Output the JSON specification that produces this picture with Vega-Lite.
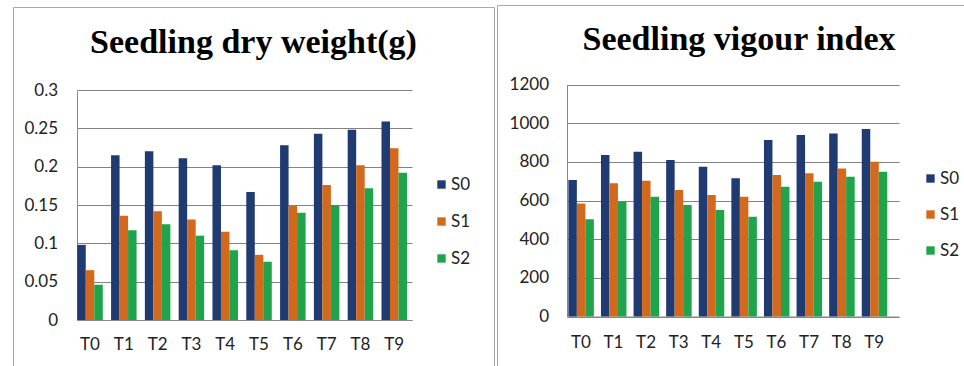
{
  "$schema": "https://vega.github.io/schema/vega-lite/v6.json",
  "padding": {"left": 13, "top": 5, "right": 0, "bottom": 0},
  "autosize": {"type": "pad"},
  "background": "white",
  "config": {"view": {"stroke": null}, "font": "Lato", "concat": {"spacing": 3}},
  "datasets": {
    "dry": [
      {"T": "T0", "S": "S0", "v": 0.098}, {"T": "T0", "S": "S1", "v": 0.065}, {"T": "T0", "S": "S2", "v": 0.046},
      {"T": "T1", "S": "S0", "v": 0.215}, {"T": "T1", "S": "S1", "v": 0.136}, {"T": "T1", "S": "S2", "v": 0.117},
      {"T": "T2", "S": "S0", "v": 0.220}, {"T": "T2", "S": "S1", "v": 0.142}, {"T": "T2", "S": "S2", "v": 0.125},
      {"T": "T3", "S": "S0", "v": 0.211}, {"T": "T3", "S": "S1", "v": 0.131}, {"T": "T3", "S": "S2", "v": 0.110},
      {"T": "T4", "S": "S0", "v": 0.202}, {"T": "T4", "S": "S1", "v": 0.115}, {"T": "T4", "S": "S2", "v": 0.091},
      {"T": "T5", "S": "S0", "v": 0.167}, {"T": "T5", "S": "S1", "v": 0.085}, {"T": "T5", "S": "S2", "v": 0.076},
      {"T": "T6", "S": "S0", "v": 0.228}, {"T": "T6", "S": "S1", "v": 0.150}, {"T": "T6", "S": "S2", "v": 0.140},
      {"T": "T7", "S": "S0", "v": 0.243}, {"T": "T7", "S": "S1", "v": 0.176}, {"T": "T7", "S": "S2", "v": 0.150},
      {"T": "T8", "S": "S0", "v": 0.248}, {"T": "T8", "S": "S1", "v": 0.202}, {"T": "T8", "S": "S2", "v": 0.172},
      {"T": "T9", "S": "S0", "v": 0.259}, {"T": "T9", "S": "S1", "v": 0.224}, {"T": "T9", "S": "S2", "v": 0.192}
    ],
    "vig": [
      {"T": "T0", "S": "S0", "v": 706}, {"T": "T0", "S": "S1", "v": 585}, {"T": "T0", "S": "S2", "v": 503},
      {"T": "T1", "S": "S0", "v": 835}, {"T": "T1", "S": "S1", "v": 689}, {"T": "T1", "S": "S2", "v": 594},
      {"T": "T2", "S": "S0", "v": 852}, {"T": "T2", "S": "S1", "v": 702}, {"T": "T2", "S": "S2", "v": 620},
      {"T": "T3", "S": "S0", "v": 809}, {"T": "T3", "S": "S1", "v": 654}, {"T": "T3", "S": "S2", "v": 577},
      {"T": "T4", "S": "S0", "v": 775}, {"T": "T4", "S": "S1", "v": 628}, {"T": "T4", "S": "S2", "v": 551},
      {"T": "T5", "S": "S0", "v": 715}, {"T": "T5", "S": "S1", "v": 620}, {"T": "T5", "S": "S2", "v": 516},
      {"T": "T6", "S": "S0", "v": 913}, {"T": "T6", "S": "S1", "v": 732}, {"T": "T6", "S": "S2", "v": 671},
      {"T": "T7", "S": "S0", "v": 939}, {"T": "T7", "S": "S1", "v": 741}, {"T": "T7", "S": "S2", "v": 697},
      {"T": "T8", "S": "S0", "v": 947}, {"T": "T8", "S": "S1", "v": 766}, {"T": "T8", "S": "S2", "v": 723},
      {"T": "T9", "S": "S0", "v": 970}, {"T": "T9", "S": "S1", "v": 800}, {"T": "T9", "S": "S2", "v": 749}
    ]
  },
  "resolve": {"scale": {"color": "independent"}, "legend": {"color": "independent"}},
  "hconcat": [
    {
      "width": 481,
      "height": 361,
      "title": {"text": "Seedling dry weight(g)", "font": "Liberation Serif", "fontSize": 34, "fontWeight": "bold", "color": "#000000", "anchor": "middle", "frame": "group", "baseline": "alphabetic", "offset": -82},
      "layer": [
        {
          "data": {"name": "dry"},
          "mark": {"type": "bar"},
          "encoding": {
            "x": {"field": "T", "type": "nominal",
                  "scale": {"range": [64, 399], "paddingInner": 0.2456, "paddingOuter": 0.078, "align": 0.05},
                  "axis": {"orient": "bottom", "offset": -46, "title": null, "labelAngle": 0, "ticks": false, "domainColor": "#888888", "labelFontSize": 17, "labelPadding": 16, "labelColor": "#222222"}},
            "y": {"field": "v", "type": "quantitative",
                  "scale": {"domain": [0, 0.3], "range": [315, 85], "nice": false, "zero": true},
                  "axis": {"values": [0, 0.05, 0.1, 0.15, 0.2, 0.25, 0.3], "offset": -64, "title": null, "ticks": false, "grid": true, "gridColor": "#828282", "gridOpacity": 1, "domainColor": "#888888", "labelPadding": 19.5, "labelFontSize": 17, "labelColor": "#222222", "format": "~g"}},
            "xOffset": {"field": "S", "type": "nominal", "scale": {"paddingInner": 0, "paddingOuter": 0}},
            "color": {"field": "S", "type": "nominal",
                      "scale": {"domain": ["S0", "S1", "S2"], "range": ["#1f3b72", "#d2691c", "#1fa34b"]},
                      "legend": {"orient": "none", "legendX": 420, "legendY": 171, "title": null, "symbolType": "square", "symbolSize": 70, "symbolStrokeWidth": 0, "labelFontSize": 17, "labelColor": "#222222", "rowPadding": 19, "labelOffset": 1}}
          }
        },
        {
          "data": {"values": [{}]},
          "mark": {"type": "point", "opacity": 0, "size": 0, "strokeWidth": 0},
          "encoding": {
            "x": {"datum": 0.5, "type": "quantitative", "scale": {"domain": [0, 1]},
                  "axis": {"orient": "top", "offset": -2, "labels": false, "ticks": false, "grid": false, "title": null, "domainColor": "#a8a8a8"}},
            "y": {"datum": 0.5, "type": "quantitative", "scale": {"domain": [0, 1], "range": [361, 2]},
                  "axis": {"orient": "left", "labels": false, "ticks": false, "grid": false, "title": null, "domainColor": "#a8a8a8"}}
          }
        },
        {
          "data": {"values": [{}]},
          "mark": {"type": "point", "opacity": 0, "size": 0, "strokeWidth": 0},
          "encoding": {
            "y": {"datum": 0.5, "type": "quantitative", "scale": {"domain": [0, 1], "range": [361, 2]},
                  "axis": {"orient": "right", "labels": false, "ticks": false, "grid": false, "title": null, "domainColor": "#a8a8a8"}}
          }
        }
      ],
      "resolve": {"scale": {"x": "independent", "y": "independent"}, "axis": {"x": "independent", "y": "independent"}}
    },
    {
      "width": 467,
      "height": 361,
      "title": {"text": "Seedling vigour index", "font": "Liberation Serif", "fontSize": 34, "fontWeight": "bold", "color": "#000000", "anchor": "middle", "frame": "group", "baseline": "alphabetic", "offset": -79, "dx": 8.5},
      "layer": [
        {
          "data": {"name": "vig"},
          "mark": {"type": "bar"},
          "encoding": {
            "x": {"field": "T", "type": "nominal",
                  "scale": {"range": [70, 402], "paddingInner": 0.233, "paddingOuter": 0.2085, "align": 0.1},
                  "axis": {"orient": "bottom", "offset": -49.5, "title": null, "labelAngle": 0, "ticks": false, "domainColor": "#888888", "labelFontSize": 17, "labelPadding": 17.5, "labelColor": "#222222"}},
            "y": {"field": "v", "type": "quantitative",
                  "scale": {"domain": [0, 1200], "range": [311.5, 79.5], "nice": false, "zero": true},
                  "axis": {"values": [0, 200, 400, 600, 800, 1000, 1200], "offset": -70, "title": null, "ticks": false, "grid": true, "gridColor": "#828282", "gridOpacity": 1, "domainColor": "#888888", "labelPadding": 18.5, "labelFontSize": 17, "labelColor": "#222222", "format": "d"}},
            "xOffset": {"field": "S", "type": "nominal", "scale": {"paddingInner": 0, "paddingOuter": 0}},
            "color": {"field": "S", "type": "nominal",
                      "scale": {"domain": ["S0", "S1", "S2"], "range": ["#1f3b72", "#d2691c", "#1fa34b"]},
                      "legend": {"orient": "none", "legendX": 425, "legendY": 165, "title": null, "symbolType": "square", "symbolSize": 70, "symbolStrokeWidth": 0, "labelFontSize": 17, "labelColor": "#222222", "rowPadding": 18, "labelOffset": 1}}
          }
        },
        {
          "data": {"values": [{}]},
          "mark": {"type": "point", "opacity": 0, "size": 0, "strokeWidth": 0},
          "encoding": {
            "x": {"datum": 0.5, "type": "quantitative", "scale": {"domain": [0, 1]},
                  "axis": {"orient": "top", "labels": false, "ticks": false, "grid": false, "title": null, "domainColor": "#a8a8a8"}},
            "y": {"datum": 0.5, "type": "quantitative", "scale": {"domain": [0, 1]},
                  "axis": {"orient": "left", "labels": false, "ticks": false, "grid": false, "title": null, "domainColor": "#a8a8a8"}}
          }
        }
      ],
      "resolve": {"scale": {"x": "independent", "y": "independent"}, "axis": {"x": "independent", "y": "independent"}}
    }
  ]
}
